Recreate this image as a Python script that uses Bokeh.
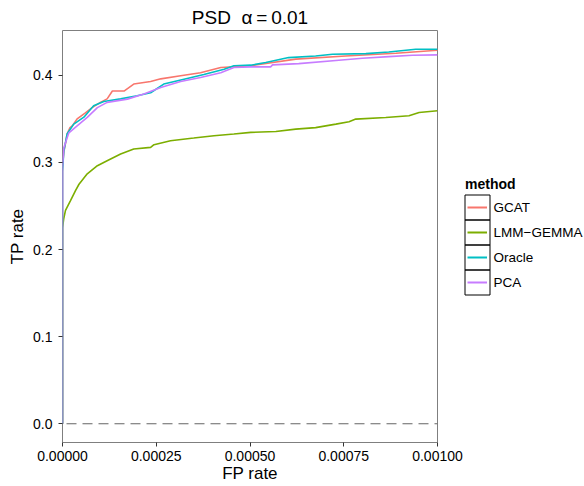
from bokeh.plotting import figure
from bokeh.layouts import row
from bokeh.models import Range1d, FixedTicker, Span
from bokeh.core.properties import value
from bokeh.embed import file_html
from bokeh.resources import INLINE

# ---------------- data (FP rate in units of 1e-4) ----------------
methods = ["GCAT", "LMM\u2212GEMMA", "Oracle", "PCA"]
colors = ["#F8766D", "#7CAE00", "#00BFC4", "#C77CFF"]

gcat_fpr = [0, 0, 0.035, 0.08, 0.125, 0.2, 0.26, 0.39, 0.61, 0.79, 1.01, 1.19,
            1.33, 1.64, 1.90, 2.35, 2.62, 3.15, 3.68, 4.22, 5.02, 6.22, 7.55,
            8.89, 10.0]
gcat_tpr = [0, 0.295, 0.312, 0.322, 0.333, 0.340, 0.342, 0.350, 0.357, 0.363,
            0.369, 0.373, 0.382, 0.382, 0.390, 0.393, 0.396, 0.3995, 0.403,
            0.409, 0.411, 0.4186, 0.4223, 0.4254, 0.4288]

lmm_fpr = [0, 0, 0.035, 0.08, 0.21, 0.35, 0.44, 0.66, 0.93, 1.19, 1.55, 1.90,
           2.35, 2.44, 2.88, 3.50, 4.04, 4.57, 5.02, 5.69, 6.22, 6.75, 7.29,
           7.64, 7.82, 8.62, 9.24, 9.51, 10.0]
lmm_tpr = [0, 0.225, 0.236, 0.245, 0.256, 0.268, 0.275, 0.287, 0.2963, 0.302,
           0.3097, 0.3155, 0.3173, 0.3204, 0.325, 0.328, 0.3307, 0.3326,
           0.3345, 0.3356, 0.3383, 0.340, 0.344, 0.3467, 0.3498, 0.3517,
           0.3536, 0.3574, 0.3593]

oracle_fpr = [0, 0, 0.035, 0.125, 0.30, 0.57, 0.83, 1.10, 1.55, 1.99, 2.35,
              2.70, 3.24, 3.77, 4.31, 4.57, 5.02, 5.42, 6.03, 6.75, 7.20, 8.09,
              8.70, 9.42, 10.0]
oracle_tpr = [0, 0.29, 0.313, 0.333, 0.344, 0.352, 0.365, 0.370, 0.373,
              0.3765, 0.380, 0.390, 0.3956, 0.401, 0.407, 0.411, 0.4117,
              0.4147, 0.4204, 0.4223, 0.4243, 0.425, 0.4269, 0.430, 0.430]

pca_fpr = [0, 0, 0.035, 0.17, 0.39, 0.66, 0.93, 1.19, 1.73, 2.17, 2.62, 3.15,
           3.68, 4.22, 4.57, 5.02, 5.55, 5.60, 6.30, 7.37, 8.00, 8.70, 9.33,
           10.0]
pca_tpr = [0, 0.295, 0.317, 0.334, 0.342, 0.3517, 0.363, 0.369, 0.3727,
           0.3785, 0.386, 0.393, 0.3975, 0.403, 0.409, 0.4097, 0.4097, 0.412,
           0.4135, 0.4174, 0.4197, 0.4215, 0.4231, 0.4235]

fpr_scale = 1e-4
baseline = 0.0

x_ticks = [0.0, 0.00025, 0.0005, 0.00075, 0.001]
x_tick_labels = ["0.00000", "0.00025", "0.00050", "0.00075", "0.00100"]
y_ticks = [0.0, 0.1, 0.2, 0.3, 0.4]
y_tick_labels = ["0.0", "0.1", "0.2", "0.3", "0.4"]

legend_title = "method"
plot_title = "PSD\u00a0\u00a0\u03b1\u2009=\u20090.01"

FONT = "Liberation Sans"

p = figure(frame_width=375, frame_height=412,
           min_border_left=62, min_border_right=26,
           min_border_top=30, min_border_bottom=44,
           x_range=Range1d(0, 0.001), y_range=Range1d(-0.0215, 0.4515),
           output_backend="svg", toolbar_location=None,
           title=plot_title)

p.background_fill_color = "white"
p.border_fill_color = "white"
p.outline_line_color = "#7f7f7f"
p.outline_line_width = 1
p.xgrid.visible = False
p.ygrid.visible = False

p.title.align = "center"
p.title.text_font = FONT
p.title.text_font_size = "19px"
p.title.text_font_style = "normal"
p.title.text_color = "black"
p.title.standoff = 6

for ax in (p.xaxis[0], p.yaxis[0]):
    ax.axis_line_color = None
    ax.major_tick_line_color = "#333333"
    ax.major_tick_out = 4
    ax.major_tick_in = 0
    ax.minor_tick_line_color = None
    ax.major_label_text_font = FONT
    ax.major_label_text_font_size = "14px"
    ax.major_label_text_color = "black"
    ax.axis_label_text_font = FONT
    ax.axis_label_text_font_size = "17px"
    ax.axis_label_text_font_style = "normal"
    ax.axis_label_text_color = "black"

p.xaxis[0].ticker = FixedTicker(ticks=x_ticks)
p.xaxis[0].major_label_overrides = dict(zip(x_ticks, x_tick_labels))
p.yaxis[0].ticker = FixedTicker(ticks=y_ticks)
p.yaxis[0].major_label_overrides = dict(zip(y_ticks, y_tick_labels))
p.xaxis[0].axis_label = "FP rate"
p.yaxis[0].axis_label = "TP rate"
p.xaxis[0].major_label_standoff = 4
p.xaxis[0].axis_label_standoff = 0
p.yaxis[0].major_label_standoff = 6
p.yaxis[0].axis_label_standoff = 3

p.add_layout(Span(location=baseline, dimension="width", line_color="#666666",
                  line_dash="10 6", line_dash_offset=-4, line_width=1.2))

series = [(gcat_fpr, gcat_tpr), (lmm_fpr, lmm_tpr),
          (oracle_fpr, oracle_tpr), (pca_fpr, pca_tpr)]
for (fx, ty), c, m in zip(series, colors, methods):
    p.line([v * fpr_scale for v in fx], ty, line_color=c, line_width=1.6)

# ---------------- legend panel (ggplot-style keys) ----------------
# frame is aligned with the main plot's frame (canvas y 30..442)
leg = figure(frame_width=121, frame_height=412, x_range=Range1d(0, 121),
             y_range=Range1d(442, 30), min_border_left=0, min_border_right=0,
             min_border_top=30, min_border_bottom=44,
             x_axis_location=None, y_axis_location=None,
             output_backend="svg", toolbar_location=None)
leg.grid.visible = False
leg.outline_line_color = None
leg.background_fill_color = "white"
leg.border_fill_color = "white"

n = len(methods)
key_top = [194.5 + 25 * i for i in range(n)]
key_mid = [t + 12.5 for t in key_top]
leg.quad(left=[1.5] * n, right=[26.5] * n, top=key_top,
         bottom=[t + 25 for t in key_top],
         fill_alpha=0, line_color="black", line_width=1)
leg.segment(x0=[4] * n, x1=[23.5] * n, y0=key_mid, y1=key_mid,
            line_color=colors, line_width=2)
leg.text(x=[30] * n, y=key_mid, text=methods, text_font=value(FONT),
         text_font_size="13.5px", text_baseline="middle", text_align="left",
         text_color="black")
leg.text(x=[1.5], y=[183.5], text=[legend_title], text_font=value(FONT),
         text_font_size="14px", text_font_style="bold",
         text_baseline="middle", text_align="left", text_color="black")

layout = row(p, leg)
open("out.html", "w").write(file_html(layout, INLINE))
